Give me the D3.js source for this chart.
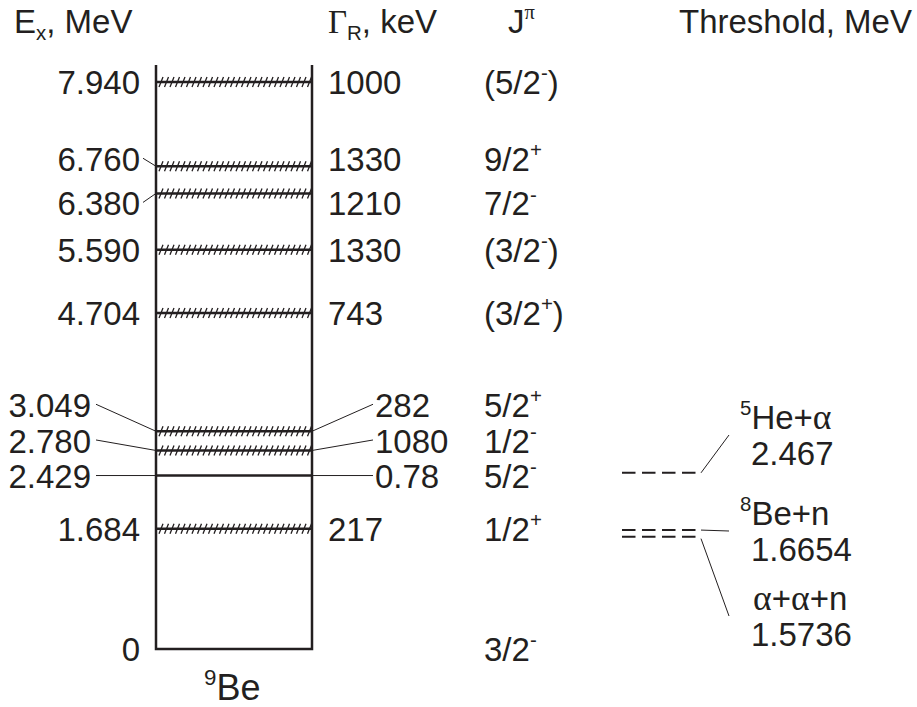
<!DOCTYPE html>
<html>
<head>
<script src="https://cdn.jsdelivr.net/npm/d3@7"></script>
<style>
  body { margin: 0; background: #fff; }
  text { font-family: "Liberation Sans", Arial, Helvetica, sans-serif; fill: #231f20; }
  .greek { font-family: "Liberation Serif", "DejaVu Serif", serif; }
</style>
</head>
<body>
<div id="viz"></div>
<script>
// levels of 9Be
var energies = [0, 1.684, 2.429, 2.780, 3.049, 4.704, 5.590, 6.380, 6.760, 7.940];
var energyLabels = ["0", "1.684", "2.429", "2.780", "3.049", "4.704", "5.590", "6.380", "6.760", "7.940"];
var widthLabels = ["", "217", "0.78", "1080", "282", "743", "1330", "1210", "1330", "1000"];
var spins = ["3/2^-", "1/2^+", "5/2^-", "1/2^-", "5/2^+", "(3/2^+)", "(3/2^-)", "7/2^-", "9/2^+", "(5/2^-)"];
var broad = [false, true, false, true, true, true, true, true, true, true];

// decay thresholds
var thresholdNames = ["^5He+α", "^8Be+n", "α+α+n"];
var thresholdValues = [2.467, 1.6654, 1.5736];
var thresholdLabels = ["2.467", "1.6654", "1.5736"];

var headers = ["E_x, MeV", "Γ_R, keV", "J^π", "Threshold, MeV"];
var nucleus = "^9Be";

var W = 917, H = 707;
var fs = 33;
var ink = "#231f20";

var svg = d3.select("#viz").append("svg")
  .attr("width", W)
  .attr("height", H);

var y = d3.scaleLinear().domain([0, 7.94]).range([649, 82]);
var boxL = 156, boxR = 312, boxTop = 65;

// label displacement (px) where levels crowd together
var shiftY = {"6.760": -7, "6.380": 10, "3.049": -26, "2.780": -9.5, "2.429": 0};
var pulledOut = {"3.049": 1, "2.780": 1, "2.429": 1};

// writes "a^b_c" style strings as text with sup/sub tspans; greek in a serif face
function rich(sel, str, size) {
  var parts = str.split(/([\^_].|[αΓπ])/).filter(function(p) { return p.length; });
  var shift = 0;
  parts.forEach(function(p) {
    var t = sel.append("tspan");
    var target = 0, s = size;
    if (p[0] == "^") { target = -0.42 * size; s = size * 0.62; p = p.slice(1); }
    else if (p[0] == "_") { target = 0.22 * size; s = size * 0.62; p = p.slice(1); }
    if (/[αΓπ]/.test(p)) { t.attr("class", "greek"); if (p == "α") s = s * 1.08; }
    t.attr("dy", target - shift).attr("font-size", s).text(p);
    shift = target;
  });
  return sel;
}

// headers
var headX = [14, 328, 508, 679];
headers.forEach(function(h, i) {
  rich(svg.append("text").attr("x", headX[i]).attr("y", 33).attr("font-size", fs), h, fs);
});

// the box
svg.append("path")
  .attr("d", "M" + boxL + "," + boxTop + "V" + y(0) + "H" + boxR + "V" + boxTop)
  .attr("fill", "none")
  .attr("stroke", ink)
  .attr("stroke-width", 2.5);

energies.forEach(function(e, i) {
  var ly = y(e);
  var key = energyLabels[i];
  var cy = ly + (shiftY[key] || 0);
  var out = pulledOut[key];

  if (e > 0) {
    if (broad[i]) {
      var p = d3.path();
      d3.range(boxL + 3, boxR - 3, 5.5).forEach(function(x) {
        p.moveTo(x, ly + 5);
        p.lineTo(x + 4, ly - 5);
      });
      svg.append("path").attr("d", p.toString())
        .attr("stroke", ink).attr("stroke-width", 1.3).attr("fill", "none");
    }
    svg.append("line")
      .attr("x1", boxL).attr("x2", boxR)
      .attr("y1", ly).attr("y2", ly)
      .attr("stroke", ink).attr("stroke-width", 2.5);
  }

  // energy label on the left
  svg.append("text")
    .attr("x", out ? 91 : 140)
    .attr("y", cy + 12)
    .attr("text-anchor", "end")
    .attr("font-size", fs)
    .text(key);

  // width label on the right
  if (widthLabels[i]) {
    svg.append("text")
      .attr("x", out ? 375 : 328)
      .attr("y", cy + 12)
      .attr("font-size", fs)
      .text(widthLabels[i]);
  }

  // spin-parity
  rich(svg.append("text").attr("x", 484).attr("y", cy + 12).attr("font-size", fs), spins[i], fs);

  // connectors
  if (shiftY[key] !== undefined) {
    var x0 = out ? 96 : 143;
    svg.append("line")
      .attr("x1", x0).attr("y1", cy - (key == "2.429" ? 0 : 1))
      .attr("x2", boxL).attr("y2", ly)
      .attr("stroke", ink).attr("stroke-width", 1);
    if (out) {
      svg.append("line")
        .attr("x1", boxR).attr("y1", ly)
        .attr("x2", 373).attr("y2", cy - (key == "2.429" ? 0 : 1))
        .attr("stroke", ink).attr("stroke-width", 1);
    }
  }
});

// nucleus name
rich(svg.append("text").attr("x", 204).attr("y", 700).attr("font-size", 36), nucleus, 36);

// thresholds
var thAnchor = [435, 531, 616];
thresholdValues.forEach(function(v, i) {
  var ty = y(v);
  svg.append("line")
    .attr("x1", 622).attr("x2", 698)
    .attr("y1", ty).attr("y2", ty)
    .attr("stroke", ink).attr("stroke-width", 2)
    .attr("stroke-dasharray", "13.5,6.5");
  svg.append("line")
    .attr("x1", 701).attr("y1", ty + (i == 2 ? 2 : 0))
    .attr("x2", 729).attr("y2", thAnchor[i])
    .attr("stroke", ink).attr("stroke-width", 1);
  rich(svg.append("text").attr("x", i == 2 ? 753 : 740).attr("y", thAnchor[i] - 6).attr("font-size", fs),
    thresholdNames[i], fs);
  svg.append("text")
    .attr("x", 751).attr("y", thAnchor[i] + 30)
    .attr("font-size", fs)
    .text(thresholdLabels[i]);
});
</script>
</body>
</html>
